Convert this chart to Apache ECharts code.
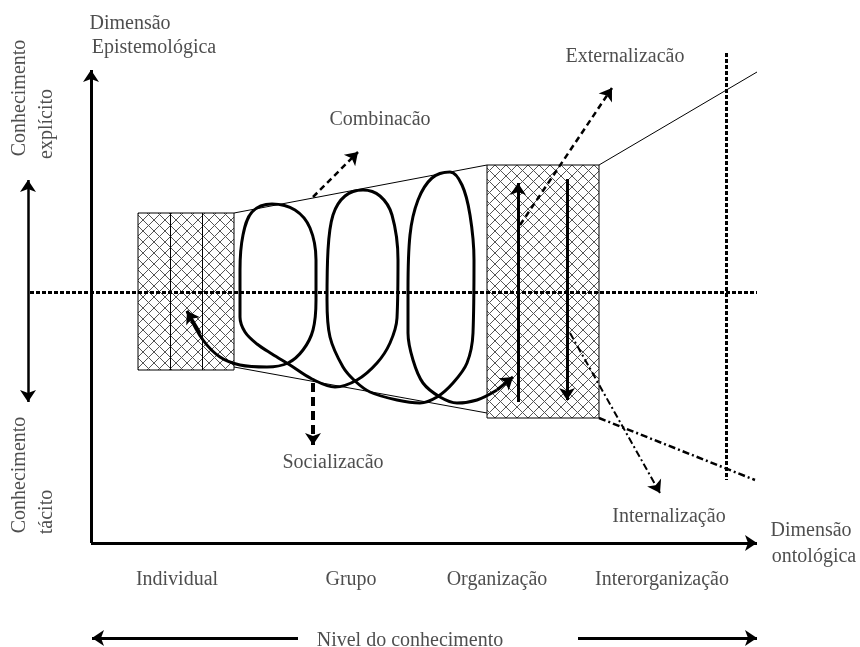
<!DOCTYPE html>
<html>
<head>
<meta charset="utf-8">
<title>Espiral do conhecimento</title>
<script src="https://cdn.jsdelivr.net/npm/echarts@6/dist/echarts.min.js"></script>
<style>
html,body{margin:0;padding:0;background:#fff}
#main{width:860px;height:647px}
</style>
</head>
<body>
<div id="main"></div>
<script>
// diagram points, in the picture's own units (x right, y down)
var spiral = [[187,311],[203,340],[220,357],[240,365],[267,367],[288,363],[303,350],[313,330],[316,300],[316,260],[310,228],[295,210],[272,204],[252,212],[243,235],[240,270],[240,317],[245,332],[257,344],[272,354],[290,365],[312,379],[335,387],[357,380],[377,363],[390,343],[397,318],[398,260],[392,215],[380,196],[363,190],[345,196],[333,215],[328,250],[327,300],[330,337],[343,367],[355,381],[370,392],[397,400],[420,403],[437,397],[453,383],[467,363],[473,333],[474,260],[470,215],[462,185],[450,172],[432,178],[418,200],[410,235],[408,290],[408,333],[413,360],[423,383],[440,397],[457,403],[477,400],[497,390]];
var spiralTips = [[[200,333],[187,311]],[[497,390],[513,377]]];

var boxes = [[138,213,234,370],[487,165,599,418]];   // x0,y0,x1,y1
var boxDividers = [[[170,213],[170,370]],[[202,213],[202,370]]];
var thinLines = [[[234,213],[487,165]],[[234,367],[487,413]],[[599,165],[757,72]]];
var dotLines = [[[30,292],[757,292]],[[726,53],[726,480]]];
var dashDotLine = [[[599,418],[755,480]]];
var axisArrows = [[[91,543],[91,70]],[[91,543],[757,543]],[[518,402],[518,183]],[[567,179],[567,400]],[[298,638],[92,638]],[[578,638],[757,638]]];
var doubleArrow = [[[28,180],[28,402]]];
var dashArrows = [[[313,197],[358,152]],[[520,225],[612,88]]];
var dashDotArrow = [[[570,333],[660,493]]];
var socialArrow = [[[313,383],[313,445]]];

var labels = ['Dimensão','Epistemológica','Combinacão','Externalizacão','Socializacão','Internalização','Dimensão','ontológica','Individual','Grupo','Organização','Interorganização','Nivel do conhecimento'];
var labelPos = [[130,24],[154,48],[380,120],[625,57],[333,463],[669,517],[811,531],[814,557],[177,580],[351,580],[497,580],[662,580],[410,641]];
var sideLabels = ['Conhecimento','explícito','Conhecimento','tácito'];
var sidePos = [[20,98],[47,124],[20,475],[47,512]];

var hatch = document.createElement('canvas');
hatch.width = hatch.height = 11;
var g = hatch.getContext('2d');
g.strokeStyle = '#555';
g.lineWidth = 1;
g.beginPath();
g.moveTo(0,0); g.lineTo(11,11);
g.moveTo(11,0); g.lineTo(0,11);
g.stroke();

function segs(list){
	return list.map(function(c){ return {coords:c}; });
}
function linesSeries(list, style, symbol, size){
	return {
		type:'lines', coordinateSystem:'cartesian2d', silent:true,
		data:segs(list),
		symbol:symbol || ['none','none'], symbolSize:size || 12,
		lineStyle:Object.assign({color:'#000', opacity:1, curveness:0}, style)
	};
}

var textData = labels.map(function(t,i){ return {name:t, value:labelPos[i]}; });
var sideData = sideLabels.map(function(t,i){ return {name:t, value:sidePos[i]}; });

var myChart = echarts.init(document.getElementById('main'));
var option = {
	animation:false,
	grid:{left:0, right:0, top:0, bottom:0},
	xAxis:{type:'value', min:0, max:860, show:false},
	yAxis:{type:'value', min:0, max:647, inverse:true, show:false},
	series:[
		{
			type:'custom', silent:true,
			data:boxes,
			renderItem:function(params, api){
				var p0 = api.coord([api.value(0), api.value(1)]);
				var p1 = api.coord([api.value(2), api.value(3)]);
				return {
					type:'rect',
					shape:{x:p0[0], y:p0[1], width:p1[0]-p0[0], height:p1[1]-p0[1]},
					style:{fill:{image:hatch, repeat:'repeat'}, stroke:'#000', lineWidth:1}
				};
			}
		},
		linesSeries(boxDividers, {width:1}),
		linesSeries(thinLines, {width:1}),
		linesSeries(dotLines, {width:3, type:[4,2]}),
		linesSeries(dashDotLine, {width:2.5, type:[7,3,2,3]}),
		linesSeries(axisArrows, {width:3}, ['none','arrow'], 12),
		linesSeries(doubleArrow, {width:2.5}, ['arrow','arrow'], 12),
		linesSeries(dashArrows, {width:2.5, type:[6,4]}, ['none','arrow'], 12),
		linesSeries(dashDotArrow, {width:2, type:[7,3,2,3]}, ['none','arrow'], 12),
		linesSeries(socialArrow, {width:4, type:[9,5]}, ['none','arrow'], 12),
		{
			type:'line', silent:true,
			data:spiral, smooth:0.35, symbol:'none',
			lineStyle:{color:'#000', width:3}
		},
		linesSeries(spiralTips, {width:3}, ['none','arrow'], 12),
		{
			type:'scatter', silent:true, symbolSize:0,
			data:textData,
			label:{show:true, position:'inside', formatter:'{b}', color:'#222', fontFamily:'Liberation Serif', fontSize:20}
		},
		{
			type:'scatter', silent:true, symbolSize:0,
			data:sideData,
			label:{show:true, position:'inside', formatter:'{b}', rotate:90, color:'#222', fontFamily:'Liberation Serif', fontSize:20}
		}
	]
};
myChart.setOption(option);
window.onresize = myChart.resize;
</script>
</body>
</html>
